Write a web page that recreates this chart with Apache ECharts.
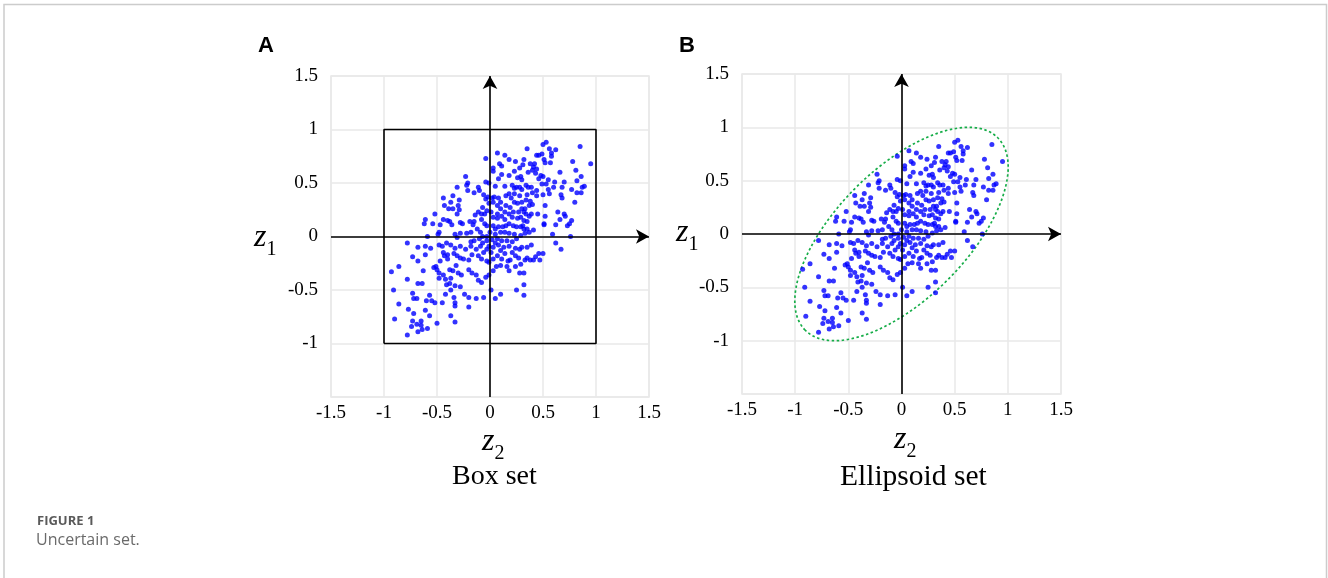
<!DOCTYPE html>
<html>
<head>
<meta charset="utf-8">
<script src="https://cdn.jsdelivr.net/npm/echarts@6/dist/echarts.min.js"></script>
<style>
  html, body { margin: 0; padding: 0; background: #fff; }
  #main { width: 1328px; height: 578px; }
</style>
</head>
<body>
<div id="main"></div>
<script>
// sample points: [z2, z1]
var samples = [
  [0.85,0.84],[0.95,0.68],[0.53,0.88],[0.50,0.86],[0.35,0.82],[0.62,0.81],[0.56,0.82],[0.58,0.78],[0.58,0.75],[0.46,0.76],
  [0.49,0.77],[0.44,0.76],[0.07,0.78],[-0.04,0.73],[0.14,0.76],[0.18,0.72],[0.24,0.70],[0.09,0.68],[0.11,0.66],[0.03,0.64],
  [0.32,0.72],[0.38,0.68],[0.42,0.68],[0.41,0.65],[0.51,0.72],[0.52,0.69],[0.57,0.69],[0.78,0.70],[0.81,0.62],[0.86,0.56],
  [0.82,0.52],[0.87,0.46],[0.89,0.47],[0.82,0.41],[0.86,0.41],[0.80,0.32],[0.77,0.44],[0.66,0.60],[0.70,0.51],[0.68,0.46],
  [0.61,0.51],[0.60,0.46],[0.67,0.39],[0.68,0.36],[0.70,0.21],[0.71,0.19],[0.66,0.16],[0.64,0.23],[0.77,0.15],[0.75,0.12],
  [0.73,0.10],[0.62,0.11],[0.59,0.02],[0.76,0.00],[0.62,-0.06],[0.67,-0.12],[0.51,0.12],[0.52,0.19],[0.52,0.29],[0.50,0.39],
  [0.56,0.40],[0.55,0.44],[0.55,0.53],[0.53,0.49],[0.49,0.49],[0.46,0.54],[0.43,0.59],[0.48,0.57],[0.50,0.56],[0.44,0.63],
  [0.40,0.62],[0.36,0.60],[0.31,0.67],[0.28,0.64],[0.23,0.61],[0.29,0.56],[0.30,0.53],[0.26,0.55],[0.18,0.57],[0.11,0.58],
  [0.08,0.54],[0.03,0.61],[-0.04,0.51],[-0.01,0.50],[0.05,0.47],[0.14,0.47],[0.21,0.48],[0.23,0.45],[0.25,0.46],[0.28,0.46],
  [0.30,0.44],[0.34,0.48],[0.36,0.46],[0.39,0.46],[0.44,0.43],[0.44,0.38],[0.40,0.41],[0.35,0.39],[0.34,0.34],[0.30,0.32],
  [0.26,0.31],[0.23,0.32],[0.20,0.36],[0.15,0.38],[0.18,0.40],[0.23,0.40],[0.28,0.38],[0.38,0.33],[0.40,0.30],[0.37,0.29],
  [0.33,0.26],[0.30,0.26],[0.27,0.23],[0.22,0.23],[0.19,0.27],[0.15,0.29],[0.10,0.32],[0.04,0.37],[0.02,0.36],[-0.02,0.37],
  [-0.06,0.39],[-0.10,0.43],[-0.11,0.46],[-0.15,0.41],[-0.21,0.43],[-0.23,0.56],[-0.21,0.50],[-0.22,0.48],[-0.31,0.46],[-0.35,0.38],
  [-0.44,0.36],[-0.43,0.29],[-0.37,0.32],[-0.29,0.34],[-0.30,0.29],[-0.29,0.25],[-0.31,0.21],[-0.35,0.26],[-0.39,0.26],[-0.52,0.21],
  [-0.61,0.16],[-0.62,0.12],[-0.54,0.12],[-0.47,0.11],[-0.44,0.16],[-0.40,0.15],[-0.38,0.14],[-0.36,0.11],[-0.28,0.13],[-0.26,0.12],
  [-0.19,0.14],[-0.16,0.11],[-0.15,0.14],[-0.08,0.16],[-0.05,0.12],[-0.03,0.10],[0.03,0.18],[0.07,0.21],[0.11,0.19],[0.14,0.16],
  [0.18,0.12],[0.22,0.10],[0.25,0.09],[0.29,0.09],[0.31,0.10],[0.32,0.15],[0.35,0.14],[0.39,0.21],[0.45,0.21],[0.51,0.11],
  [0.41,0.06],[0.37,0.04],[0.33,0.03],[0.29,0.01],[0.25,-0.02],[0.23,0.02],[0.18,0.03],[0.14,0.04],[0.10,0.04],[0.05,0.02],
  [0.00,0.04],[-0.03,0.00],[-0.07,0.00],[-0.09,0.04],[-0.12,0.07],[-0.18,0.04],[-0.22,0.03],[-0.28,0.03],[-0.31,-0.01],[-0.33,0.02],
  [-0.48,0.04],[-0.49,0.02],[-0.59,0.00],[-0.78,-0.06],[-0.68,-0.10],[-0.61,-0.09],[-0.56,-0.11],[-0.48,-0.08],[-0.45,-0.09],[-0.41,-0.06],
  [-0.37,-0.08],[-0.33,-0.11],[-0.28,-0.09],[-0.23,-0.12],[-0.18,-0.09],[-0.13,-0.12],[-0.09,-0.09],[-0.07,-0.06],[-0.03,-0.04],[0.02,-0.03],
  [0.05,-0.06],[0.08,-0.08],[0.13,-0.10],[0.18,-0.09],[0.24,-0.11],[0.28,-0.12],[0.30,-0.10],[0.35,-0.10],[0.39,-0.08],[0.46,-0.16],
  [0.50,-0.16],[0.43,-0.19],[0.35,-0.20],[0.33,-0.22],[0.38,-0.22],[0.41,-0.22],[0.47,-0.22],[0.27,-0.20],[0.24,-0.18],[0.19,-0.22],
  [0.17,-0.23],[0.11,-0.21],[0.07,-0.18],[0.03,-0.21],[-0.01,-0.24],[-0.03,-0.23],[-0.08,-0.21],[-0.11,-0.18],[-0.17,-0.17],[-0.20,-0.22],
  [-0.25,-0.21],[-0.28,-0.20],[-0.31,-0.18],[-0.34,-0.16],[-0.40,-0.17],[-0.44,-0.15],[-0.43,-0.18],[-0.40,-0.21],[-0.47,-0.23],[-0.51,-0.28],
  [-0.53,-0.29],[-0.50,-0.31],[-0.48,-0.34],[-0.48,-0.39],[-0.44,-0.36],[-0.42,-0.40],[-0.38,-0.31],[-0.35,-0.32],[-0.32,-0.27],[-0.30,-0.34],
  [-0.27,-0.36],[-0.20,-0.31],[-0.17,-0.34],[-0.13,-0.36],[-0.11,-0.41],[-0.08,-0.43],[-0.04,-0.38],[-0.01,-0.36],[0.03,-0.32],[0.06,-0.28],
  [0.10,-0.27],[0.16,-0.28],[0.18,-0.32],[0.24,-0.28],[0.29,-0.26],[0.28,-0.34],[0.32,-0.34],[0.32,-0.45],[0.25,-0.50],[0.32,-0.55],
  [0.05,-0.58],[0.10,-0.54],[0.01,-0.50],[-0.06,-0.57],[-0.13,-0.58],[-0.20,-0.57],[-0.20,-0.66],[-0.24,-0.54],[-0.28,-0.47],[-0.33,-0.46],
  [-0.37,-0.39],[-0.38,-0.44],[-0.41,-0.45],[-0.37,-0.50],[-0.42,-0.54],[-0.34,-0.57],[-0.33,-0.62],[-0.33,-0.65],[-0.37,-0.74],[-0.33,-0.80],
  [-0.45,-0.62],[-0.52,-0.62],[-0.55,-0.60],[-0.57,-0.55],[-0.60,-0.60],[-0.61,-0.69],[-0.57,-0.74],[-0.59,-0.86],[-0.50,-0.81],[-0.65,-0.79],
  [-0.65,-0.83],[-0.64,-0.87],[-0.69,-0.82],[-0.68,-0.89],[-0.74,-0.84],[-0.73,-0.79],[-0.72,-0.72],[-0.77,-0.68],[-0.78,-0.92],[-0.86,-0.63],
  [-0.90,-0.77],[-0.91,-0.50],[-0.78,-0.40],[-0.93,-0.33],[-0.86,-0.28],[-0.73,-0.19],[-0.68,-0.23],[-0.63,-0.32],[-0.61,-0.17],[-0.68,-0.44],
  [-0.64,-0.44],[-0.73,-0.53],[-0.72,-0.58],[-0.69,-0.58],
  [-0.11,0.23],[-0.08,0.21],[-0.05,0.21],[-0.03,0.24],[0.01,0.23],[0.07,0.17],[-0.07,0.27],[-0.14,0.20],[0.03,0.10],[0.05,0.07],
  [0.08,0.09],[0.12,0.09],[0.15,0.10],[0.32,0.23],[0.34,0.21],[0.37,0.19],[0.29,0.18],[0.32,0.07],[0.35,0.07],[0.26,0.17],
  [0.21,0.18],[0.18,0.21],[0.14,0.23],[-0.04,0.35],[-0.01,0.31],[0.03,0.32],[0.07,0.29],[0.10,0.26],[0.08,0.36],
  [-0.03,-0.12],[0.01,-0.15],[0.03,-0.10],[-0.06,-0.15],[-0.01,-0.09],[-0.10,-0.02],[-0.15,-0.04],[-0.18,-0.05],[0.07,-0.02],[0.11,-0.04],
  [0.16,-0.04],[0.21,-0.05],[0.21,-0.15],[0.14,-0.16],[0.10,-0.13]
];

// box uncertainty set corners
var boxCorners = [[-1, -1], [-1, 1], [1, 1], [1, -1], [-1, -1]];
// ellipsoid set: center, semi axes (major, minor), tilt in degrees
var ellipseSet = [[0, 0, 1.28, 0.61, 45]];
// arrowed axes through origin
var axisArrows = [
  [[-1.5, 0], [1.5, 0]],
  [[0, -1.5], [0, 1.5]]
];
var axisMin = -1.5, axisMax = 1.5, axisStep = 0.5;

var serif = "'Liberation Serif', 'DejaVu Serif', serif";
var gridColor = '#e8e8e8';

function makeAxis(type, gridIndex) {
  return {
    type: 'value',
    gridIndex: gridIndex,
    min: axisMin, max: axisMax, interval: axisStep,
    axisLine: { show: false },
    axisTick: { show: false },
    splitLine: { show: true, lineStyle: { color: gridColor, width: 1.5 } },
    axisLabel: {
      color: '#000', fontFamily: serif, fontSize: 19,
      margin: type === 'x' ? 7 : 13,
      formatter: function (v) {
        if (type === 'y' && v === axisMin) return '';
        return String(v);
      }
    }
  };
}

function arrowMarks() {
  return {
    silent: true,
    animation: false,
    symbol: ['none', 'arrow'],
    symbolSize: [11, 13],
    label: { show: false },
    lineStyle: { color: '#000', width: 1.6, type: 'solid' },
    emphasis: { disabled: true },
    data: axisArrows.map(function (seg) {
      return [{ coord: seg[0] }, { coord: seg[1] }];
    })
  };
}

var chart = echarts.init(document.getElementById('main'), null, { renderer: 'canvas' });

var richZ = {
  z: { fontFamily: serif, fontStyle: 'italic', fontSize: 32, lineHeight: 32, color: '#000' },
  s: { fontFamily: serif, fontSize: 20, lineHeight: 44, verticalAlign: 'bottom', color: '#000' }
};

chart.setOption({
  animation: false,
  grid: [
    { left: 331, top: 76, width: 318, height: 321, show: true, borderColor: gridColor, borderWidth: 1.5, containLabel: false },
    { left: 742, top: 74, width: 319, height: 320, show: true, borderColor: gridColor, borderWidth: 1.5, containLabel: false }
  ],
  xAxis: [makeAxis('x', 0), makeAxis('x', 1)],
  yAxis: [makeAxis('y', 0), makeAxis('y', 1)],
  series: [
    {
      type: 'line', xAxisIndex: 0, yAxisIndex: 0,
      data: boxCorners, symbol: 'none', silent: true,
      lineStyle: { color: '#000', width: 1.6 }
    },
    {
      type: 'scatter', xAxisIndex: 0, yAxisIndex: 0,
      data: samples, symbolSize: 5,
      itemStyle: { color: '#0000ff' },
      markLine: arrowMarks()
    },
    {
      type: 'scatter', xAxisIndex: 1, yAxisIndex: 1,
      data: samples, symbolSize: 5,
      itemStyle: { color: '#0000ff' },
      markLine: arrowMarks()
    },
    {
      type: 'custom', xAxisIndex: 1, yAxisIndex: 1,
      data: ellipseSet, silent: true,
      renderItem: function (params, api) {
        var c = api.coord([api.value(0), api.value(1)]);
        var rx = api.size([api.value(2), 0])[0];
        var ry = api.size([0, api.value(3)])[1];
        return {
          type: 'ellipse',
          x: c[0], y: c[1],
          rotation: api.value(4) * Math.PI / 180,
          shape: { cx: 0, cy: 0, rx: rx, ry: ry },
          style: { fill: 'none', stroke: '#16ad48', lineWidth: 1.7, lineDash: [2.5, 2.5] }
        };
      }
    }
  ],
  graphic: [
    { type: 'polyline', shape: { points: [[4, 578], [4, 4.5], [1326.5, 4.5], [1326.5, 578]] },
      style: { stroke: '#cccccc', lineWidth: 1.5, fill: 'none' }, silent: true },
    { type: 'text', left: 258, top: 35, style: { text: 'A', font: "bold 22px 'Liberation Sans', Arial, sans-serif", fill: '#000' } },
    { type: 'text', left: 679, top: 35, style: { text: 'B', font: "bold 22px 'Liberation Sans', Arial, sans-serif", fill: '#000' } },
    { type: 'text', left: 254, top: 222, style: { text: '{z|z}{s|1}', rich: richZ } },
    { type: 'text', left: 676, top: 217, style: { text: '{z|z}{s|1}', rich: richZ } },
    { type: 'text', left: 482, top: 426, style: { text: '{z|z}{s|2}', rich: richZ } },
    { type: 'text', left: 894, top: 424, style: { text: '{z|z}{s|2}', rich: richZ } },
    { type: 'text', left: 452, top: 463, style: { text: 'Box set', font: "28px " + serif, fill: '#000' } },
    { type: 'text', left: 840, top: 462, style: { text: 'Ellipsoid set', font: "29.5px " + serif, fill: '#000' } },
    { type: 'text', left: 37, top: 515, style: { text: 'FIGURE 1', font: "bold 13px 'Open Sans', sans-serif", fill: '#5a5a5a' } },
    { type: 'text', left: 36, top: 532, style: { text: 'Uncertain set.', font: "16px 'Open Sans', sans-serif", fill: '#6a6a6a' } }
  ]
});
</script>
</body>
</html>
